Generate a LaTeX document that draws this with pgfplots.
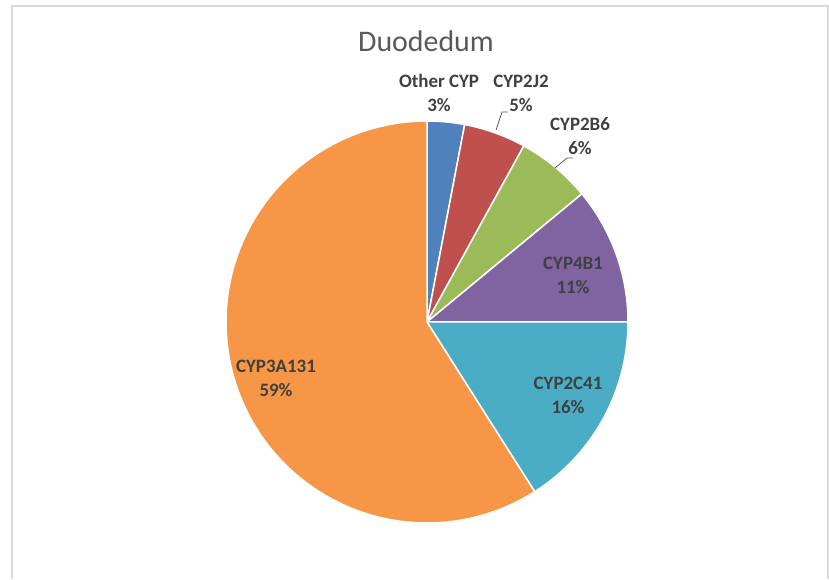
\documentclass[border=0pt]{standalone}
\usepackage{pgfplots}
\pgfplotsset{compat=1.18}
\usepackage{fontspec}
\setmainfont{Carlito}
\definecolor{cBlue}{HTML}{4F81BD}
\definecolor{cRed}{HTML}{C0504D}
\definecolor{cGreen}{HTML}{9BBB59}
\definecolor{cPurple}{HTML}{8064A2}
\definecolor{cAqua}{HTML}{4BACC6}
\definecolor{cOrange}{HTML}{F79646}
\definecolor{lbl}{HTML}{404040}
\definecolor{ttl}{HTML}{595959}
\definecolor{frm}{HTML}{D9D9D9}
% shares in percent, clockwise from 12 o'clock
\def\vA{3}  % Other CYP
\def\vB{5}  % CYP2J2
\def\vC{6}  % CYP2B6
\def\vD{11} % CYP4B1
\def\vE{16} % CYP2C41
\def\vF{59} % CYP3A131
\begin{document}
\begin{tikzpicture}
\pgfmathsetmacro\aA{90}
\pgfmathsetmacro\aB{\aA-3.6*\vA}
\pgfmathsetmacro\aC{\aB-3.6*\vB}
\pgfmathsetmacro\aD{\aC-3.6*\vC}
\pgfmathsetmacro\aE{\aD-3.6*\vD}
\pgfmathsetmacro\aF{\aE-3.6*\vE}
\pgfmathsetmacro\aG{\aF-3.6*\vF}
\def\cx{427}\def\cy{257}\def\r{201}
\begin{axis}[
  scale only axis, width=829bp, height=579bp,
  xmin=0, xmax=829, ymin=0, ymax=579,
  axis lines=none, clip=false,
]
\path (rel axis cs:0,0) rectangle (rel axis cs:1,1);
\draw[frm, line width=2bp] (axis cs:11.5,0) -- (axis cs:11.5,573) -- (axis cs:828,573) -- (axis cs:828,0);
\pgfplotsset{wedge/.style={draw=white, line width=1.5bp, samples=80, variable=\t, line join=round}}
\addplot[wedge, fill=cBlue, domain=\aB:\aA] ({\cx+\r*cos(\t)},{\cy+\r*sin(\t)}) -- (axis cs:\cx,\cy) -- cycle;
\addplot[wedge, fill=cRed, domain=\aC:\aB] ({\cx+\r*cos(\t)},{\cy+\r*sin(\t)}) -- (axis cs:\cx,\cy) -- cycle;
\addplot[wedge, fill=cGreen, domain=\aD:\aC] ({\cx+\r*cos(\t)},{\cy+\r*sin(\t)}) -- (axis cs:\cx,\cy) -- cycle;
\addplot[wedge, fill=cPurple, domain=\aE:\aD] ({\cx+\r*cos(\t)},{\cy+\r*sin(\t)}) -- (axis cs:\cx,\cy) -- cycle;
\addplot[wedge, fill=cAqua, domain=\aF:\aE] ({\cx+\r*cos(\t)},{\cy+\r*sin(\t)}) -- (axis cs:\cx,\cy) -- cycle;
\addplot[wedge, fill=cOrange, domain=\aG:\aF, samples=200] ({\cx+\r*cos(\t)},{\cy+\r*sin(\t)}) -- (axis cs:\cx,\cy) -- cycle;
% title
\node[anchor=base, text=ttl, font=\fontsize{30}{36}\selectfont] at (axis cs:426,527) {Duodedum};
% data labels
\pgfplotsset{every axis/.append style={}}
\tikzset{dl/.style={text=lbl, align=center, font=\fontsize{19}{24}\selectfont\bfseries, inner sep=0pt}}
\node[dl] at (axis cs:439,486) {Other CYP\\3\%};
\node[dl] at (axis cs:521,486) {CYP2J2\\5\%};
\node[dl] at (axis cs:580,443) {CYP2B6\\6\%};
\node[dl] at (axis cs:573,304) {CYP4B1\\11\%};
\node[dl] at (axis cs:568,184) {CYP2C41\\16\%};
\node[dl] at (axis cs:276,201) {CYP3A131\\59\%};
% leader lines
\draw[gray!70!black, line width=0.8bp] (axis cs:508,467) -- (axis cs:502,467) -- (axis cs:496,449);
\draw[gray!70!black, line width=0.8bp] (axis cs:573,421) -- (axis cs:567,421) -- (axis cs:555,411);
\end{axis}
\end{tikzpicture}
\end{document}
